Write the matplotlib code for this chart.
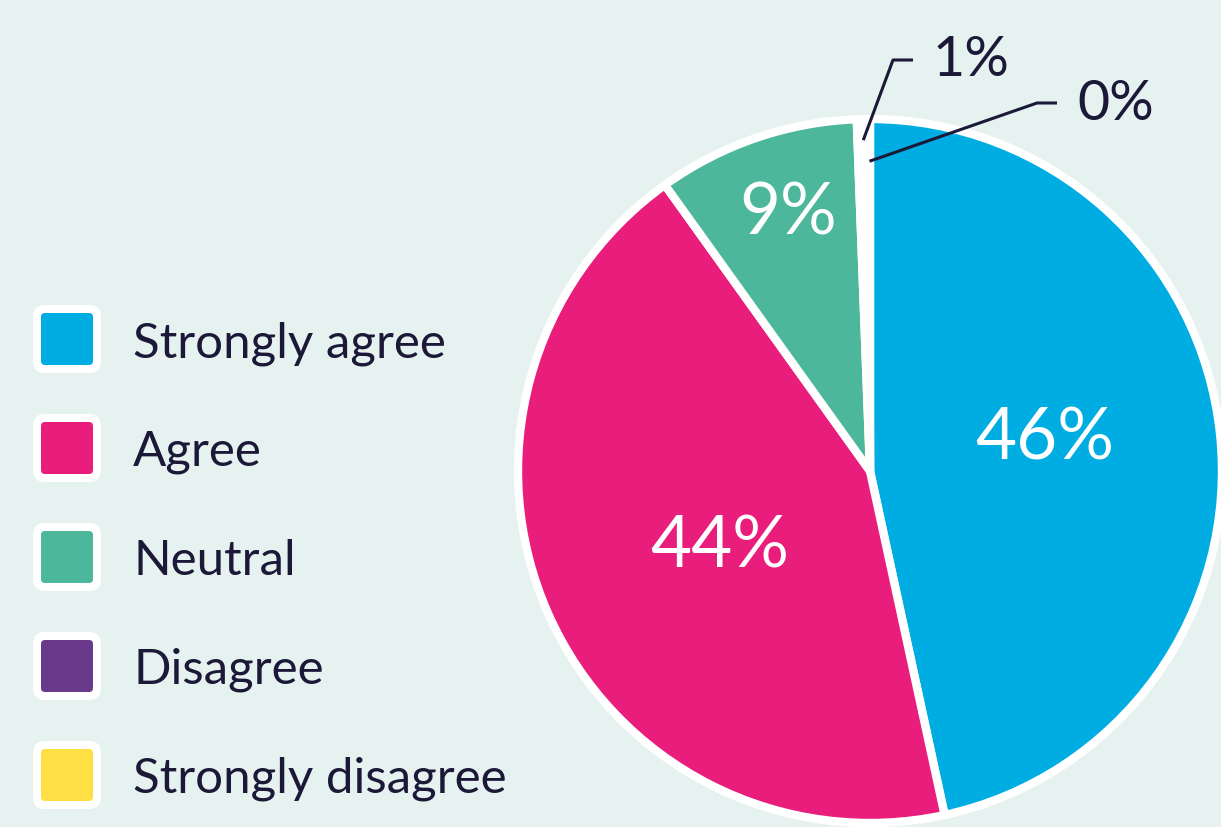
import numpy as np
import matplotlib.pyplot as plt
from matplotlib.patches import FancyBboxPatch

categories = ["Strongly agree", "Agree", "Neutral", "Disagree", "Strongly disagree"]
values = [46.6, 43.5, 9.3, 0.55, 0.05]
pct_labels = ["46%", "44%", "9%", "1%", "0%"]
colors = ["#00ade2", "#e91d7b", "#4db79c", "#6b398c", "#ffe044"]

bg = "#e6f2f0"
ink = "#1b1838"
W, H = 1221, 828

plt.rcParams['font.family'] = ['Lato', 'DejaVu Sans']

fig = plt.figure(figsize=(W / 100, H / 100), dpi=100, facecolor=bg)
ax = fig.add_axes([0, 0, 1, 1])
ax.set_facecolor(bg)

cx, cy, R = 870, H - 472, 352
wedges, _ = ax.pie(values, colors=colors, startangle=90, counterclock=False,
                   center=(cx, cy), radius=R,
                   wedgeprops=dict(edgecolor="white", linewidth=6))
# the tiny slices disappear under the white borders in the original
for w, v in zip(wedges, values):
    if v < 1:
        w.set_facecolor("white")

ax.set_xlim(0, W)
ax.set_ylim(0, H)
ax.set_aspect("equal")
ax.axis("off")

# labels inside the big slices: (radius fraction, angle nudge in degrees)
inner_pos = [(0.505, 4.6), (0.477, 2.6), (0.77, -1.4)]
for w, lab, (f, da) in zip(wedges[:3], pct_labels[:3], inner_pos):
    a = np.deg2rad((w.theta1 + w.theta2) / 2 + da)
    ax.text(cx + f * R * np.cos(a), cy + f * R * np.sin(a), lab,
            color="white", fontsize=51, fontweight="normal",
            ha="center", va="center")

# leader lines for the slivers
start_r = [0.94, 0.88]
elbows = [(893, H - 61), (1037, H - 104)]
for w, lab, f, (ex, ey) in zip(wedges[3:], pct_labels[3:], start_r, elbows):
    a = np.deg2rad((w.theta1 + w.theta2) / 2)
    sx, sy = cx + f * R * np.cos(a), cy + f * R * np.sin(a)
    ax.plot([sx, ex, ex + 20], [sy, ey, ey], color=ink, lw=2.2,
            solid_capstyle="butt")
    ax.text(ex + 40, ey, lab, color=ink, fontsize=40, fontweight="normal",
            ha="left", va="center")

# legend
for i, (name, c) in enumerate(zip(categories, colors)):
    base = H - (357 + 109 * i)
    yc = base + 17
    ax.add_patch(FancyBboxPatch((67 - 26, yc - 26), 52, 52,
                                boxstyle="round,pad=8,rounding_size=12",
                                facecolor="white", edgecolor="none"))
    ax.add_patch(FancyBboxPatch((67 - 26, yc - 26), 52, 52,
                                boxstyle="round,pad=0,rounding_size=4",
                                facecolor=c, edgecolor="none"))
    ax.text(133, base, name, color=ink, fontsize=35.5, ha="left", va="baseline")

fig.savefig("out.png", dpi=100, facecolor=bg)
